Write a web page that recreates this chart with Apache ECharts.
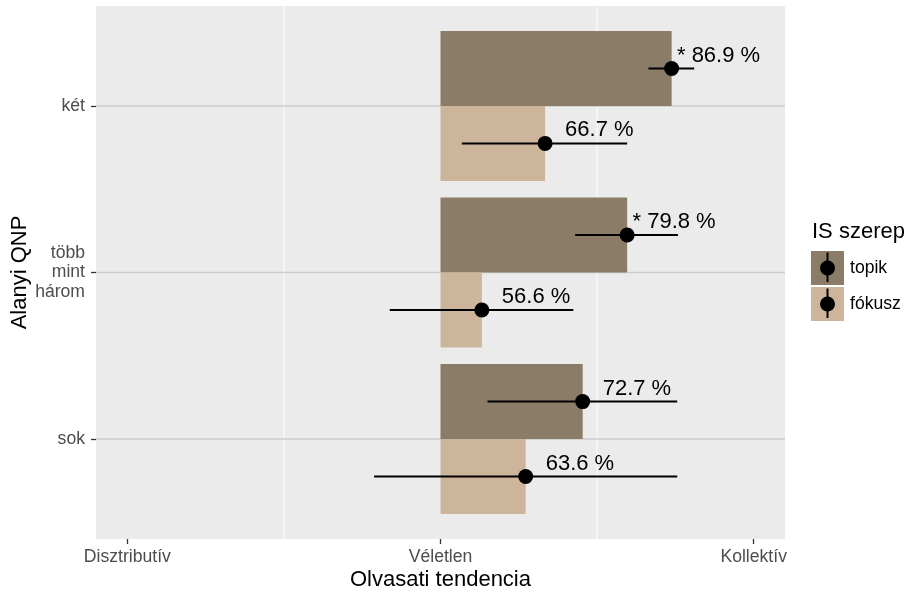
<!DOCTYPE html>
<html>
<head>
<meta charset="utf-8">
<script src="https://cdn.jsdelivr.net/npm/echarts@6/dist/echarts.min.js"></script>
<style>
  html, body { margin: 0; padding: 0; background: #ffffff; }
  #chart { width: 909px; height: 594px; }
</style>
</head>
<body>
<div id="chart"></div>
<script>
// Categories on the vertical axis (top to bottom)
const categories = ['két', 'több\nmint\nhárom', 'sok'];
// Roles shown side by side in each category
const roles = ['topik', 'fókusz'];
const roleColors = ['#8A7C66', '#CDB59C'];

// Percentages with their interval bounds, per category
const topikValues = [86.9, 79.8, 72.7];
const topikLower = [83.2, 71.5, 57.5];
const topikUpper = [90.5, 87.9, 87.8];
const topikSignificant = [true, true, false];

const fokuszValues = [66.7, 56.6, 63.6];
const fokuszLower = [53.4, 41.9, 39.4];
const fokuszUpper = [79.8, 71.2, 87.8];
const fokuszSignificant = [false, false, false];

// Horizontal scale
const xTickValues = [0, 50, 100];
const xTickLabels = ['Disztributív', 'Véletlen', 'Kollektív'];
const xMinorGrid = [25, 75];
const baseline = 50;

const FONT = '"Liberation Sans", Arial, Helvetica, sans-serif';
const DODGE = 0.45;

const roleData = [
  { values: topikValues, lower: topikLower, upper: topikUpper, sig: topikSignificant },
  { values: fokuszValues, lower: fokuszLower, upper: fokuszUpper, sig: fokuszSignificant }
];

// Flatten into rows with their dodged vertical position
const rows = [];
roleData.forEach(function (rd, r) {
  const offset = (r - 0.5) * DODGE;
  categories.forEach(function (c, i) {
    rows.push({
      role: r,
      pos: i + 1 + offset,
      value: rd.values[i],
      lo: rd.lower[i],
      hi: rd.upper[i],
      sig: rd.sig[i] ? 1 : 0
    });
  });
});

const chart = echarts.init(document.getElementById('chart'), null, { renderer: 'canvas' });

const option = {
  backgroundColor: '#ffffff',
  animation: false,
  textStyle: { fontFamily: FONT },
  grid: {
    left: 96, top: 6, width: 689, height: 533,
    show: true, backgroundColor: '#EBEBEB', borderWidth: 0,
    containLabel: false, outerBoundsMode: 'none'
  },
  xAxis: {
    type: 'value',
    min: -5, max: 105,
    name: 'Olvasati tendencia',
    nameLocation: 'middle',
    nameGap: 30,
    nameMoveOverlap: false,
    nameTextStyle: { fontFamily: FONT, fontSize: 22, color: '#000000' },
    axisLine: { show: false, onZero: false },
    splitLine: { show: false },
    axisTick: {
      show: true, inside: false, length: 5, customValues: xTickValues,
      lineStyle: { color: '#333333', width: 1.3 }
    },
    axisLabel: {
      show: true, margin: 9, customValues: xTickValues,
      fontFamily: FONT, fontSize: 17.6, color: '#4D4D4D',
      formatter: function (v) {
        const k = xTickValues.indexOf(Math.round(v));
        return k >= 0 ? xTickLabels[k] : '';
      }
    }
  },
  yAxis: {
    type: 'value',
    min: 0.4, max: 3.6,
    inverse: true,
    name: 'Alanyi QNP',
    nameLocation: 'middle',
    nameRotate: 90,
    nameGap: 65,
    nameMoveOverlap: false,
    nameTextStyle: { fontFamily: FONT, fontSize: 22, color: '#000000' },
    axisLine: { show: false, onZero: false },
    splitLine: { show: false },
    axisTick: {
      show: true, inside: false, length: 5, customValues: [1, 2, 3],
      lineStyle: { color: '#333333', width: 1.3 }
    },
    axisLabel: {
      show: true, margin: 11, customValues: [1, 2, 3],
      fontFamily: FONT, fontSize: 17.6, color: '#4D4D4D',
      lineHeight: 19.5, align: 'right',
      formatter: function (v) {
        const k = Math.round(v) - 1;
        return categories[k] !== undefined ? categories[k] : '';
      }
    }
  },
  series: [
    // panel grid: white minor lines on the horizontal scale
    {
      type: 'custom',
      silent: true,
      z: 1,
      data: xMinorGrid.map(function (v) { return [v]; }),
      renderItem: function (params, api) {
        const cs = params.coordSys;
        const x = api.coord([api.value(0), 1])[0];
        return {
          type: 'line',
          shape: { x1: x, y1: cs.y, x2: x, y2: cs.y + cs.height },
          style: { stroke: '#FFFFFF', lineWidth: 1 }
        };
      }
    },
    // panel grid: grey lines at each category
    {
      type: 'custom',
      silent: true,
      z: 1,
      data: categories.map(function (c, i) { return [i + 1]; }),
      renderItem: function (params, api) {
        const cs = params.coordSys;
        const y = api.coord([0, api.value(0)])[1];
        return {
          type: 'line',
          shape: { x1: cs.x, y1: y, x2: cs.x + cs.width, y2: y },
          style: { stroke: '#CDCDCD', lineWidth: 1.4 }
        };
      }
    },
    // bars from the 50 % baseline
    {
      type: 'custom',
      name: 'bars',
      z: 2,
      data: rows.map(function (r) { return [r.value, r.pos, r.role]; }),
      renderItem: function (params, api) {
        const v = api.value(0), pos = api.value(1), role = api.value(2);
        const a = api.coord([baseline, pos - DODGE / 2]);
        const b = api.coord([v, pos + DODGE / 2]);
        return {
          type: 'rect',
          shape: {
            x: Math.min(a[0], b[0]), y: Math.min(a[1], b[1]),
            width: Math.abs(b[0] - a[0]), height: Math.abs(b[1] - a[1])
          },
          style: { fill: roleColors[role] }
        };
      }
    },
    // interval lines
    {
      type: 'custom',
      name: 'intervals',
      z: 3,
      data: rows.map(function (r) { return [r.lo, r.hi, r.pos]; }),
      renderItem: function (params, api) {
        const a = api.coord([api.value(0), api.value(2)]);
        const b = api.coord([api.value(1), api.value(2)]);
        return {
          type: 'line',
          shape: { x1: a[0], y1: a[1], x2: b[0], y2: b[1] },
          style: { stroke: '#000000', lineWidth: 2 }
        };
      }
    },
    // points
    {
      type: 'scatter',
      name: 'points',
      z: 4,
      symbol: 'circle',
      symbolSize: 15,
      itemStyle: { color: '#000000', opacity: 1 },
      data: rows.map(function (r) { return [r.value, r.pos]; })
    },
    // value labels
    {
      type: 'custom',
      name: 'labels',
      z: 5,
      data: rows.map(function (r) { return [r.value, r.pos, r.sig]; }),
      renderItem: function (params, api) {
        const v = api.value(0), sig = api.value(2);
        const p = api.coord([v, api.value(1)]);
        const x = p[0] + 20, y = p[1] - 13;
        const children = [{
          type: 'text',
          style: {
            text: v.toFixed(1) + ' %', x: x, y: y,
            align: 'left', verticalAlign: 'middle',
            font: '22px ' + FONT, fill: '#000000'
          }
        }];
        if (sig) {
          children.push({
            type: 'text',
            style: {
              text: '*', x: x - 6, y: y,
              align: 'right', verticalAlign: 'middle',
              font: '22px ' + FONT, fill: '#000000'
            }
          });
        }
        return { type: 'group', children: children };
      }
    }
  ],
  graphic: (function () {
    const els = [{
      type: 'text', left: 812, top: 221,
      style: { text: 'IS szerep', font: '22px ' + FONT, fill: '#000000' }
    }];
    roles.forEach(function (name, i) {
      const top = 251 + i * 36;
      els.push({
        type: 'rect', shape: { x: 811, y: top, width: 33, height: 34 },
        style: { fill: roleColors[i] }
      });
      els.push({
        type: 'line', shape: { x1: 827.5, y1: top + 1.5, x2: 827.5, y2: top + 31 },
        style: { stroke: '#000000', lineWidth: 2 }
      });
      els.push({
        type: 'circle', shape: { cx: 827.5, cy: top + 17, r: 7.5 },
        style: { fill: '#000000' }
      });
      els.push({
        type: 'text', x: 850, y: top + 17,
        style: { text: name, font: '17.6px ' + FONT, fill: '#000000', verticalAlign: 'middle', align: 'left' }
      });
    });
    return els;
  })()
};

chart.setOption(option);
</script>
</body>
</html>
